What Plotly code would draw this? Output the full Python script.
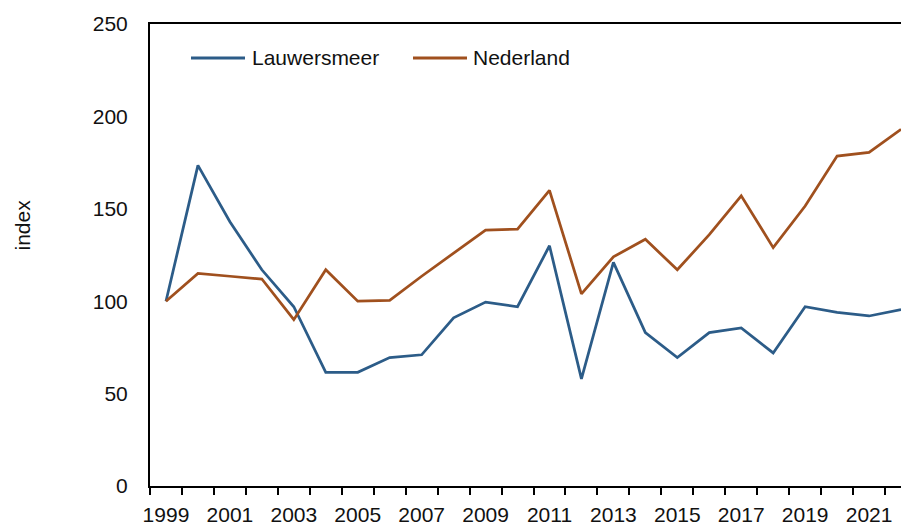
import plotly.graph_objects as go

years = list(range(1999, 2023))
lauwersmeer = [100, 173.5, 143, 117, 97, 61.5, 61.5, 69.5, 71, 91, 99.5, 97, 130, 58, 121,
               83, 69.5, 83, 85.5, 72, 97, 94, 92, 95.5]
nederland = [100, 115, 113.5, 112, 90, 117, 100, 100.5, 113.5, 126, 138.5, 139, 160, 104, 124,
             133.5, 117, 136, 157, 129, 151.5, 178.5, 180.5, 193]
series_names = ["Lauwersmeer", "Nederland"]
tick_years = list(range(1999, 2022, 2))
y_ticks = [0, 50, 100, 150, 200, 250]

FONT = "Liberation Sans"
TEXT = "#111111"
BLUE = "#2C5C88"
BROWN = "#A0501E"
colors = [BLUE, BROWN]

# page body has an 8px offset; plot area spans 150..917 x 24..486 in the screenshot
OFF = 8
PL, PR, PT, PB = 150, 917, 24, 486
W, H = 909, 528


def px_x(px):
    return (px - PL) / (PR - PL)


def px_y(py):
    return (PB - py) / (PB - PT)


fig = go.Figure()
for name, vals, col in zip(series_names, [lauwersmeer, nederland], colors):
    fig.add_trace(go.Scatter(x=years, y=vals, mode="lines", name=name,
                             line=dict(color=col, width=2.75), showlegend=False))

# legend drawn as line samples + text
legend_spec = [(191, 245, 250), (413, 467, 471)]
shapes = []
annotations = []
for (x0, x1, tx), name, col in zip(legend_spec, series_names, colors):
    shapes.append(dict(type="line", xref="paper", yref="paper",
                       x0=px_x(x0), x1=px_x(x1), y0=px_y(58), y1=px_y(58),
                       line=dict(color=col, width=3)))
    annotations.append(dict(text=name, xref="paper", yref="paper",
                            x=px_x(tx), y=px_y(58), xanchor="left", yanchor="middle",
                            showarrow=False,
                            font=dict(family=FONT, size=21, color=TEXT)))

annotations.append(dict(text="index", xref="paper", yref="paper",
                        x=px_x(21.5), y=px_y(225), xanchor="center", yanchor="middle",
                        showarrow=False, textangle=-90,
                        font=dict(family=FONT, size=21, color=TEXT)))

fig.update_layout(
    width=W, height=H,
    margin=dict(l=PL - OFF, r=W + OFF - PR, t=PT - OFF, b=H + OFF - PB, autoexpand=False),
    plot_bgcolor="white", paper_bgcolor="white",
    font=dict(family=FONT, size=21, color=TEXT),
    showlegend=False,
    shapes=shapes,
    annotations=annotations,
)

fig.update_xaxes(
    range=[1998.5, 2022.5],
    tickvals=tick_years, ticktext=[str(y) for y in tick_years],
    ticks="", showgrid=False, zeroline=False,
    showline=True, linecolor="black", linewidth=2, mirror=True,
    ticklabelstandoff=9, automargin=False,
    minor=dict(ticks="outside", ticklen=7, tickcolor="black", tickwidth=2,
               tick0=1998.5, dtick=1, showgrid=False),
)
fig.update_yaxes(
    range=[0, 250], tickvals=y_ticks, ticks="", showgrid=False, zeroline=False,
    showline=True, linecolor="black", linewidth=2, ticklabelstandoff=16,
    automargin=False,
)

fig.write_html("out.html")
